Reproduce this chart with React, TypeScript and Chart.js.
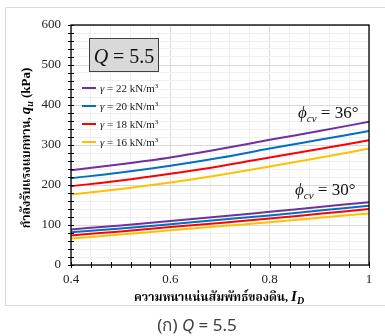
import React, { useEffect, useRef } from "react";
import { Chart, registerables } from "chart.js";

Chart.register(...registerables);

const idValues = [0.4, 0.5, 0.6, 0.7, 0.8, 0.9, 1.0];

const q36g22 = [237, 252, 269, 290, 313, 335, 358];
const q36g20 = [217, 231, 248, 268, 291, 313, 335];
const q36g18 = [197, 211, 228, 247, 269, 290, 312];
const q36g16 = [176, 190, 206, 225, 246, 268, 291];

const q30g22 = [89, 99, 110, 121, 133, 145, 157];
const q30g20 = [82, 91, 102, 113, 124, 136, 148];
const q30g18 = [74, 84, 95, 105, 116, 128, 140];
const q30g16 = [66, 76, 87, 97, 107, 118, 129];

const gammaLabels = ["22", "20", "18", "16"];
const seriesColors = ["#7030a0", "#0070c0", "#ff0000", "#ffc000"];

const yTickLabels = ["0", "100", "200", "300", "400", "500", "600"];
const xTickLabels = ["0.4", "0.6", "0.8", "1"];

const SERIF = '"Liberation Serif", "Times New Roman", "Noto Serif Thai", "Noto Sans Thai", serif';
const SANS = '"Noto Sans", "Open Sans", "DejaVu Sans", sans-serif';

type Seg = { text: string; font: string; dy?: number };

function drawSegs(ctx: CanvasRenderingContext2D, segs: Seg[], x: number, y: number, align: "left" | "center") {
  let total = 0;
  for (const s of segs) {
    ctx.font = s.font;
    total += ctx.measureText(s.text).width;
  }
  let cx = align === "center" ? x - total / 2 : x;
  ctx.textAlign = "left";
  ctx.textBaseline = "alphabetic";
  for (const s of segs) {
    ctx.font = s.font;
    ctx.fillText(s.text, cx, y + (s.dy || 0));
    cx += ctx.measureText(s.text).width;
  }
}

const decorPlugin = {
  id: "decor",
  afterDraw(chart: any) {
    const ctx: CanvasRenderingContext2D = chart.ctx;
    const { left, right, top, bottom } = chart.chartArea;
    const xs = chart.scales.x;
    const ys = chart.scales.y;
    ctx.save();

    // outer frame
    ctx.strokeStyle = "#d9d9d9";
    ctx.lineWidth = 1;
    ctx.beginPath();
    ctx.moveTo(385, 7.5);
    ctx.lineTo(5.5, 7.5);
    ctx.lineTo(5.5, 305.5);
    ctx.lineTo(385, 305.5);
    ctx.stroke();

    // plot border
    ctx.strokeStyle = "#000";
    ctx.lineWidth = 1.3;
    ctx.strokeRect(left, top, right - left, bottom - top);

    // tick marks
    ctx.lineWidth = 1;
    ctx.beginPath();
    for (let v = 0; v <= 600; v += 20) {
      const py = Math.round(ys.getPixelForValue(v)) + 0.5;
      ctx.moveTo(left - 3, py);
      ctx.lineTo(left + 3, py);
    }
    for (let i = 0; i <= 15; i++) {
      const v = 0.4 + i * 0.04;
      const px = Math.round(xs.getPixelForValue(v)) + 0.5;
      ctx.moveTo(px, bottom - 3);
      ctx.lineTo(px, bottom + 3);
    }
    ctx.stroke();

    // Q box
    ctx.fillStyle = "#d9d9d9";
    ctx.fillRect(89, 38, 69, 33);
    ctx.strokeStyle = "#404040";
    ctx.lineWidth = 1;
    ctx.strokeRect(89.5, 38.5, 69, 33);
    ctx.fillStyle = "#111";
    drawSegs(
      ctx,
      [
        { text: "Q", font: `italic 20px ${SERIF}` },
        { text: " = 5.5", font: `20px ${SERIF}` },
      ],
      124,
      63,
      "center"
    );

    // legend
    for (let i = 0; i < 4; i++) {
      const cy = 88 + i * 18;
      ctx.strokeStyle = seriesColors[i];
      ctx.lineWidth = 2;
      ctx.beginPath();
      ctx.moveTo(82, cy);
      ctx.lineTo(96, cy);
      ctx.stroke();
      ctx.fillStyle = "#222";
      drawSegs(
        ctx,
        [
          { text: "γ", font: `italic 11px ${SERIF}` },
          { text: ` = ${gammaLabels[i]} kN/m`, font: `11px ${SERIF}` },
          { text: "3", font: `7px ${SERIF}`, dy: -4 },
        ],
        100,
        cy + 4,
        "left"
      );
    }

    // phi annotations
    ctx.fillStyle = "#111";
    const phi = (deg: string, x: number, y: number) =>
      drawSegs(
        ctx,
        [
          { text: "ϕ", font: `italic 17px ${SERIF}` },
          { text: "cv", font: `italic 11px ${SERIF}`, dy: 4 },
          { text: ` = ${deg}°`, font: `17px ${SERIF}` },
        ],
        x,
        y,
        "left"
      );
    phi("36", 298, 117.5);
    phi("30", 295, 195);

    // x title
    ctx.fillStyle = "#000";
    drawSegs(
      ctx,
      [
        { text: "ความหนาแน่นสัมพัทธ์ของดิน, ", font: `bold 12px ${SERIF}` },
        { text: "I", font: `bold italic 15px ${SERIF}` },
        { text: "D", font: `bold italic 10px ${SERIF}`, dy: 3 },
      ],
      219,
      301,
      "center"
    );

    // y title
    ctx.save();
    ctx.translate(30, 148);
    ctx.rotate(-Math.PI / 2);
    drawSegs(
      ctx,
      [
        { text: "กำลังรับแรงแบกทาน, ", font: `bold 12px ${SERIF}` },
        { text: "q", font: `bold italic 15px ${SERIF}` },
        { text: "u", font: `bold italic 10px ${SERIF}`, dy: 3 },
        { text: " (kPa)", font: `bold 13px ${SERIF}` },
      ],
      0,
      0,
      "center"
    );
    ctx.restore();

    // caption
    ctx.fillStyle = "#404040";
    drawSegs(
      ctx,
      [
        { text: "(ก) ", font: `17px ${SANS}` },
        { text: "Q", font: `italic 17px ${SANS}` },
        { text: " = 5.5", font: `17px ${SANS}` },
      ],
      197,
      331,
      "center"
    );

    ctx.restore();
  },
};

export default function App() {
  const ref = useRef<HTMLCanvasElement | null>(null);

  useEffect(() => {
    if (!ref.current) return;
    const groups = [
      [q36g22, q36g20, q36g18, q36g16],
      [q30g22, q30g20, q30g18, q30g16],
    ];
    const datasets: any[] = [];
    groups.forEach((g) =>
      g.forEach((arr, i) =>
        datasets.push({
          data: idValues.map((x, k) => ({ x, y: arr[k] })),
          borderColor: seriesColors[i],
          backgroundColor: seriesColors[i],
          borderWidth: 2,
          pointRadius: 0,
          cubicInterpolationMode: "monotone",
          fill: false,
        })
      )
    );

    const chart = new Chart(ref.current, {
      type: "line",
      data: { datasets },
      options: {
        animation: false,
        responsive: false,
        layout: { padding: { left: 0, top: 25, right: 16, bottom: 0 } },
        plugins: { legend: { display: false }, tooltip: { enabled: false } },
        scales: {
          x: {
            type: "linear",
            min: 0.4,
            max: 1.0,
            afterFit: (s: any) => {
              s.height = 71;
            },
            border: { display: false },
            grid: {
              drawTicks: false,
              color: (c: any) => {
                const v = Math.round((c.tick?.value ?? 0) * 100);
                return v % 20 === 0 ? "#d9d9d9" : "#f0f0f0";
              },
            },
            ticks: {
              stepSize: 0.04,
              autoSkip: false,
              maxRotation: 0,
              padding: 7,
              color: "#222",
              font: { family: SERIF, size: 13 },
              callback: (value: any) => {
                const v = Math.round(Number(value) * 100);
                if (v % 20 !== 0) return "";
                return xTickLabels[(v - 40) / 20];
              },
            },
          },
          y: {
            type: "linear",
            min: 0,
            max: 600,
            afterFit: (s: any) => {
              s.width = 71;
            },
            border: { display: false },
            grid: {
              drawTicks: false,
              color: (c: any) => ((c.tick?.value ?? 0) % 100 === 0 ? "#d9d9d9" : "#f0f0f0"),
            },
            ticks: {
              stepSize: 20,
              autoSkip: false,
              padding: 10,
              color: "#222",
              font: { family: SERIF, size: 13 },
              callback: (value: any) => {
                const v = Number(value);
                if (v % 100 !== 0) return "";
                return yTickLabels[v / 100];
              },
            },
          },
        },
      },
      plugins: [decorPlugin],
    });
    return () => chart.destroy();
  }, []);

  return (
    <div style={{ position: "absolute", left: 0, top: 0, width: 385, height: 336, background: "#fff" }}>
      <canvas ref={ref} width={385} height={336} style={{ width: 385, height: 336, display: "block" }} />
    </div>
  );
}
